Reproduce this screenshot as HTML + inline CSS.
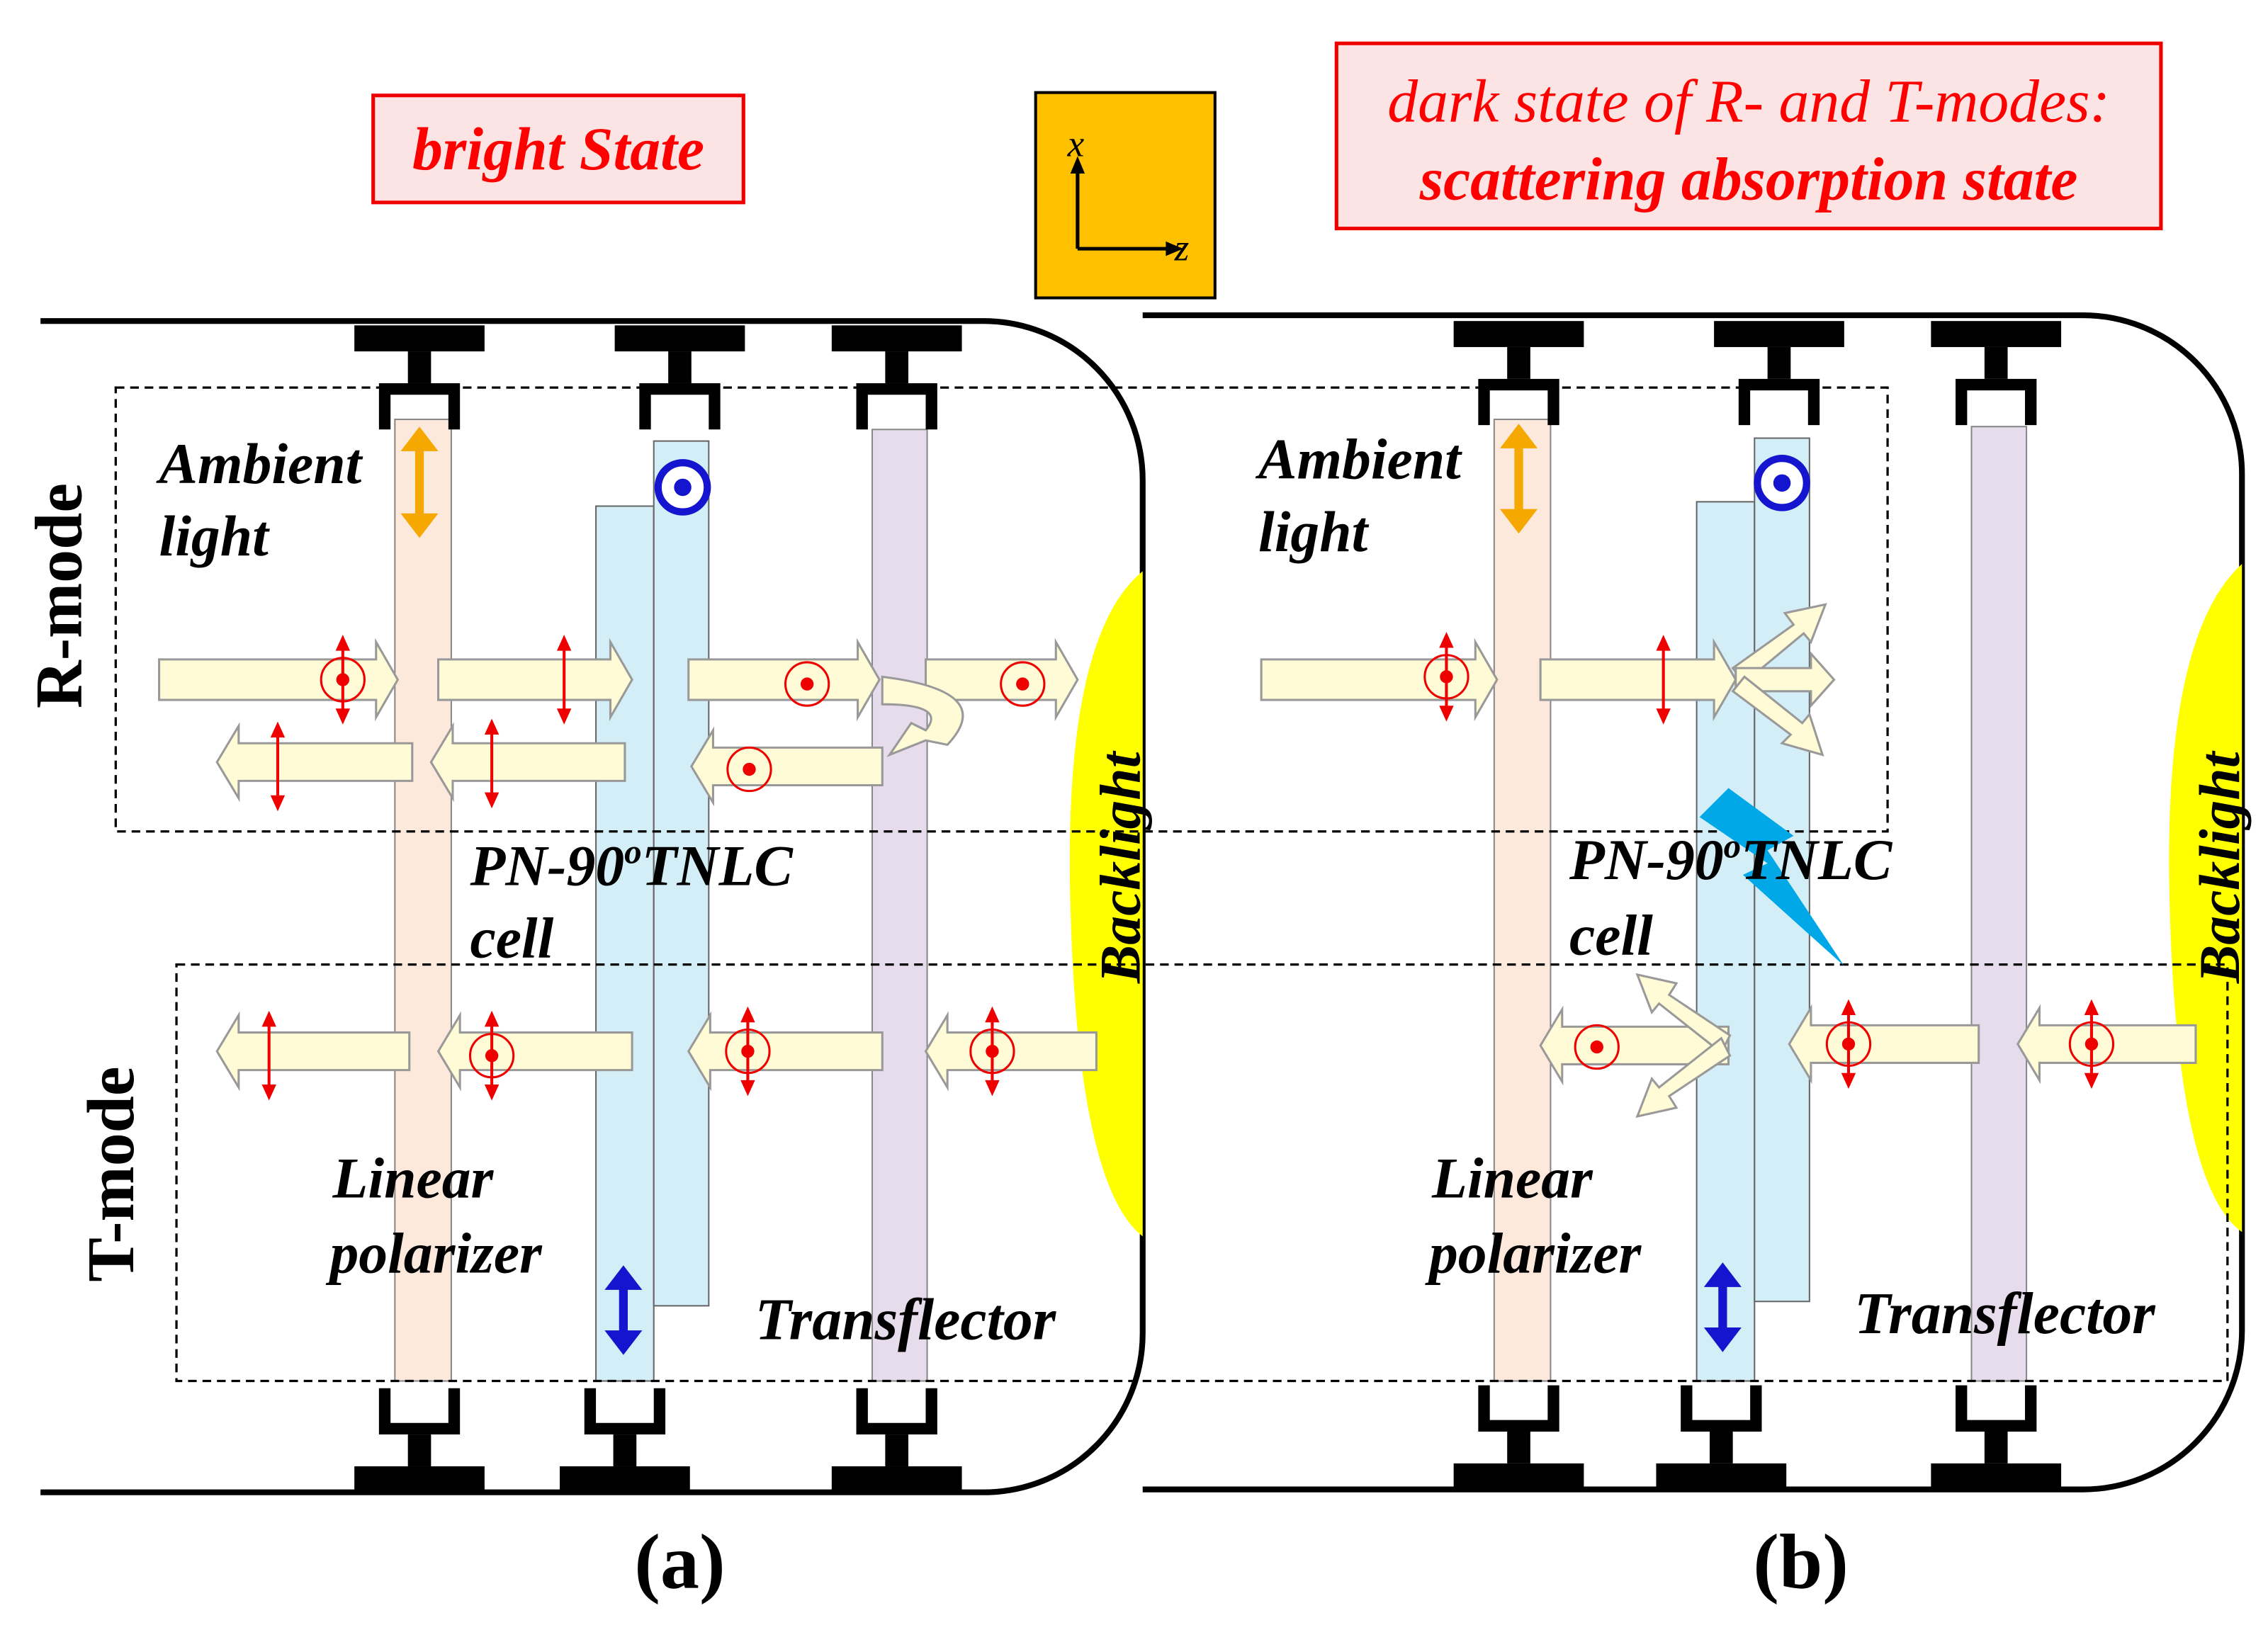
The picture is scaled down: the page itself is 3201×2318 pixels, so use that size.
<!DOCTYPE html>
<html><head><meta charset="utf-8"><style>
html,body{margin:0;padding:0;background:#fff;}
svg{display:block;}
text{font-family:"Liberation Serif",serif;font-weight:bold;}
.it{font-style:italic;}
</style></head><body>
<svg width="3201" height="2318" viewBox="0 0 1568 1135.5" preserveAspectRatio="none" xmlns="http://www.w3.org/2000/svg">
<defs>
<g id="clampT">
<rect x="-45" y="0" width="90" height="18" fill="#000"/>
<rect x="-8" y="18" width="16" height="22" fill="#000"/>
<path d="M-28,40 H28 V72 H20 V48 H-20 V72 H-28 Z" fill="#000"/>
</g>
<g id="clampB">
<rect x="-45" y="-18" width="90" height="18" fill="#000"/>
<rect x="-8" y="-40" width="16" height="22" fill="#000"/>
<path d="M-28,-40 H28 V-72 H20 V-48 H-20 V-72 H-28 Z" fill="#000"/>
</g>
<g id="vpol"><line x1="0" y1="-24" x2="0" y2="24" stroke="#e00" stroke-width="2"/><path d="M-5,-20 L0,-31 L5,-20 Z M-5,20 L0,31 L5,20 Z" fill="#e00"/></g>
<g id="cpol"><circle r="15" fill="none" stroke="#e00" stroke-width="1.5"/><circle r="4.5" fill="#e00"/></g>
</defs>
<rect width="1568" height="1136" fill="#fff"/>

<path d="M28,222 H680 A110,110 0 0 1 790,332 V922 A110,110 0 0 1 680,1032 H28" fill="none" stroke="#000" stroke-width="4"/>
<path d="M790,218 H1440 A110,110 0 0 1 1550,328 V920 A110,110 0 0 1 1440,1030 H790" fill="none" stroke="#000" stroke-width="4"/>

<path d="M790,395 Q735,440 740,625 Q745,820 790,855 Z" fill="#ffff00"/>
<path d="M1550,390 Q1495,440 1500,625 Q1505,820 1550,852 Z" fill="#ffff00"/>

<rect x="273" y="290" width="39" height="665" fill="#fde9dc" stroke="#888" stroke-width="1"/>
<rect x="412" y="350" width="40" height="605" fill="#d3eef7" stroke="#666" stroke-width="1"/>
<rect x="452" y="305" width="38" height="598" fill="#d3eef7" stroke="#666" stroke-width="1"/>
<rect x="603" y="297" width="38" height="658" fill="#e6dcec" stroke="#888" stroke-width="1"/>
<rect x="1033" y="290" width="39" height="665" fill="#fde9dc" stroke="#888" stroke-width="1"/>
<rect x="1173" y="347" width="40" height="608" fill="#d3eef7" stroke="#666" stroke-width="1"/>
<rect x="1213" y="303" width="38" height="597" fill="#d3eef7" stroke="#666" stroke-width="1"/>
<rect x="1363" y="295" width="38" height="660" fill="#e6dcec" stroke="#888" stroke-width="1"/>

<use href="#clampT" x="290" y="225"/><use href="#clampT" x="470" y="225"/><use href="#clampT" x="620" y="225"/>
<use href="#clampT" x="1050" y="222"/><use href="#clampT" x="1230" y="222"/><use href="#clampT" x="1380" y="222"/>
<use href="#clampB" x="290" y="1032"/><use href="#clampB" x="432" y="1032"/><use href="#clampB" x="620" y="1032"/>
<use href="#clampB" x="1050" y="1030"/><use href="#clampB" x="1190" y="1030"/><use href="#clampB" x="1380" y="1030"/>

<rect x="80" y="268" width="1225" height="307" fill="none" stroke="#000" stroke-width="1.6" stroke-dasharray="6,4"/>
<rect x="122" y="667" width="1418" height="288" fill="none" stroke="#000" stroke-width="1.6" stroke-dasharray="6,4"/>

<g fill="#fefbd6" stroke="#999" stroke-width="1.5">
<path d="M110,456 H260 V444 L275,470 L260,496 V484 H110 Z"/>
<path d="M303,456 H422 V444 L437,470 L422,496 V484 H303 Z"/>
<path d="M476,456 H593 V444 L608,470 L593,496 V484 H476 Z"/>
<path d="M640,456 H730 V444 L745,470 L730,496 V484 H640 Z"/>
<path d="M285,514 H165 V502 L150,527 L165,552 V540 H285 Z"/>
<path d="M432,514 H313 V502 L298,527 L313,552 V540 H432 Z"/>
<path d="M610,517 H493 V505 L478,530 L493,555 V543 H610 Z"/>
<path d="M610,468 Q690,478 655,515 L640,512 L615,522 L630,500 L640,505 Q655,487 610,487 Z"/>
<path d="M283,714 H165 V702 L150,727 L165,752 V740 H283 Z"/>
<path d="M437,714 H318 V702 L303,727 L318,752 V740 H437 Z"/>
<path d="M610,714 H491 V702 L476,727 L491,752 V740 H610 Z"/>
<path d="M758,714 H655 V702 L640,727 L655,752 V740 H758 Z"/>
<path d="M872,456 H1020 V444 L1035,470 L1020,496 V484 H872 Z"/>
<path d="M1065,456 H1185 V444 L1200,470 L1185,496 V484 H1065 Z"/>
<path d="M1198,462 L1240,432 L1234,424 L1262,418 L1252,444 L1247,438 L1206,472 Z"/>
<path d="M1200,462 H1252 V452 L1268,470 L1252,488 V478 H1200 Z"/>
<path d="M1206,468 L1246,500 L1251,494 L1260,522 L1232,514 L1238,508 L1198,478 Z"/>
<path d="M1518,709 H1410 V697 L1395,722 L1410,747 V735 H1518 Z"/>
<path d="M1368,709 H1252 V697 L1237,722 L1252,747 V735 H1368 Z"/>
<path d="M1195,710 H1080 V698 L1065,723 L1080,748 V736 H1195 Z"/>
<path d="M1196,716 L1154,688 L1159,680 L1132,674 L1142,700 L1147,694 L1190,728 Z"/>
<path d="M1196,730 L1154,758 L1159,766 L1132,772 L1142,746 L1147,752 L1190,718 Z"/>
</g>

<path d="M1195,545 L1240,578 L1222,588 L1275,668 L1205,605 L1222,597 L1175,565 Z" fill="#00a8e8"/>

<use href="#cpol" x="237" y="470"/><use href="#vpol" x="237" y="470"/>
<use href="#vpol" x="390" y="470"/>
<use href="#cpol" x="558" y="473"/>
<use href="#cpol" x="707" y="473"/>
<use href="#vpol" x="192" y="530"/>
<use href="#vpol" x="340" y="528"/>
<use href="#cpol" x="518" y="532"/>
<use href="#vpol" x="186" y="730"/>
<use href="#cpol" x="340" y="730"/><use href="#vpol" x="340" y="730"/>
<use href="#cpol" x="517" y="727"/><use href="#vpol" x="517" y="727"/>
<use href="#cpol" x="686" y="727"/><use href="#vpol" x="686" y="727"/>
<use href="#cpol" x="1000" y="468"/><use href="#vpol" x="1000" y="468"/>
<use href="#vpol" x="1150" y="470"/>
<use href="#cpol" x="1446" y="722"/><use href="#vpol" x="1446" y="722"/>
<use href="#cpol" x="1278" y="722"/><use href="#vpol" x="1278" y="722"/>
<use href="#cpol" x="1104" y="724"/>

<g fill="#f5a800">
<path d="M287,310 H293 V355 H303 L290,372 L277,355 H287 Z M277,312 L290,295 L303,312 Z"/>
<path d="M1047,308 H1053 V352 H1063 L1050,369 L1037,352 H1047 Z M1037,310 L1050,293 L1063,310 Z"/>
</g>
<circle cx="472" cy="337" r="17" fill="#fff" stroke="#1515d0" stroke-width="5"/><circle cx="472" cy="337" r="6" fill="#1515d0"/>
<circle cx="1232" cy="334" r="17" fill="#fff" stroke="#1515d0" stroke-width="5"/><circle cx="1232" cy="334" r="6" fill="#1515d0"/>
<g fill="#1515d0">
<path d="M428,890 H434 V920 H444 L431,937 L418,920 H428 Z M418,892 L431,875 L444,892 Z"/>
<path d="M1188,888 H1194 V918 H1204 L1191,935 L1178,918 H1188 Z M1178,890 L1191,873 L1204,890 Z"/>
</g>

<text x="56" y="412" font-size="46" transform="rotate(-90 56 412)" text-anchor="middle">R-mode</text>
<text x="92" y="812" font-size="46" transform="rotate(-90 92 812)" text-anchor="middle">T-mode</text>
<g font-size="40">
<text class="it" x="110" y="334">Ambient</text><text class="it" x="110" y="384">light</text>
<text class="it" x="325" y="612">PN-90<tspan font-size="24" dy="-15">o</tspan><tspan dy="15">TNLC</tspan></text>
<text class="it" x="325" y="662">cell</text>
<text class="it" x="230" y="828">Linear</text><text class="it" x="228" y="880">polarizer</text>
<text class="it" x="522" y="926" font-size="41">Transflector</text>
<text class="it" x="788" y="600" transform="rotate(-90 788 600)" text-anchor="middle">Backlight</text>
<text class="it" x="870" y="331">Ambient</text><text class="it" x="870" y="381">light</text>
<text class="it" x="1085" y="608">PN-90<tspan font-size="24" dy="-15">o</tspan><tspan dy="15">TNLC</tspan></text>
<text class="it" x="1085" y="660">cell</text>
<text class="it" x="990" y="828">Linear</text><text class="it" x="988" y="880">polarizer</text>
<text class="it" x="1282" y="922" font-size="41">Transflector</text>
<text class="it" x="1548" y="600" transform="rotate(-90 1548 600)" text-anchor="middle">Backlight</text>
</g>
<text x="470" y="1098" font-size="54" text-anchor="middle">(a)</text>
<text x="1245" y="1098" font-size="54" text-anchor="middle">(b)</text>

<rect x="258" y="66" width="256" height="74" fill="#fde4e4" stroke="#e00" stroke-width="2.5"/>
<text class="it" x="386" y="117" font-size="42" fill="#f00" text-anchor="middle">bright State</text>
<rect x="924" y="30" width="570" height="128" fill="#fde4e4" stroke="#e00" stroke-width="2.5"/>
<text class="it" x="1209" y="84" font-size="42" fill="#f00" text-anchor="middle" style="font-weight:normal">dark state of R- and T-modes:</text>
<text class="it" x="1209" y="138" font-size="42" fill="#f00" text-anchor="middle">scattering absorption state</text>

<rect x="716" y="64" width="124" height="142" fill="#ffc000" stroke="#000" stroke-width="2"/>
<path d="M745,172 V118 M745,172 H808" stroke="#000" stroke-width="2.5" fill="none"/>
<path d="M740,120 L745,108 L750,120 Z M806,167 L818,172 L806,177 Z" fill="#000"/>
<text class="it" x="738" y="108" font-size="26" style="font-weight:normal">x</text>
<text class="it" x="812" y="180" font-size="26" style="font-weight:normal">z</text>
</svg>
</body></html>
